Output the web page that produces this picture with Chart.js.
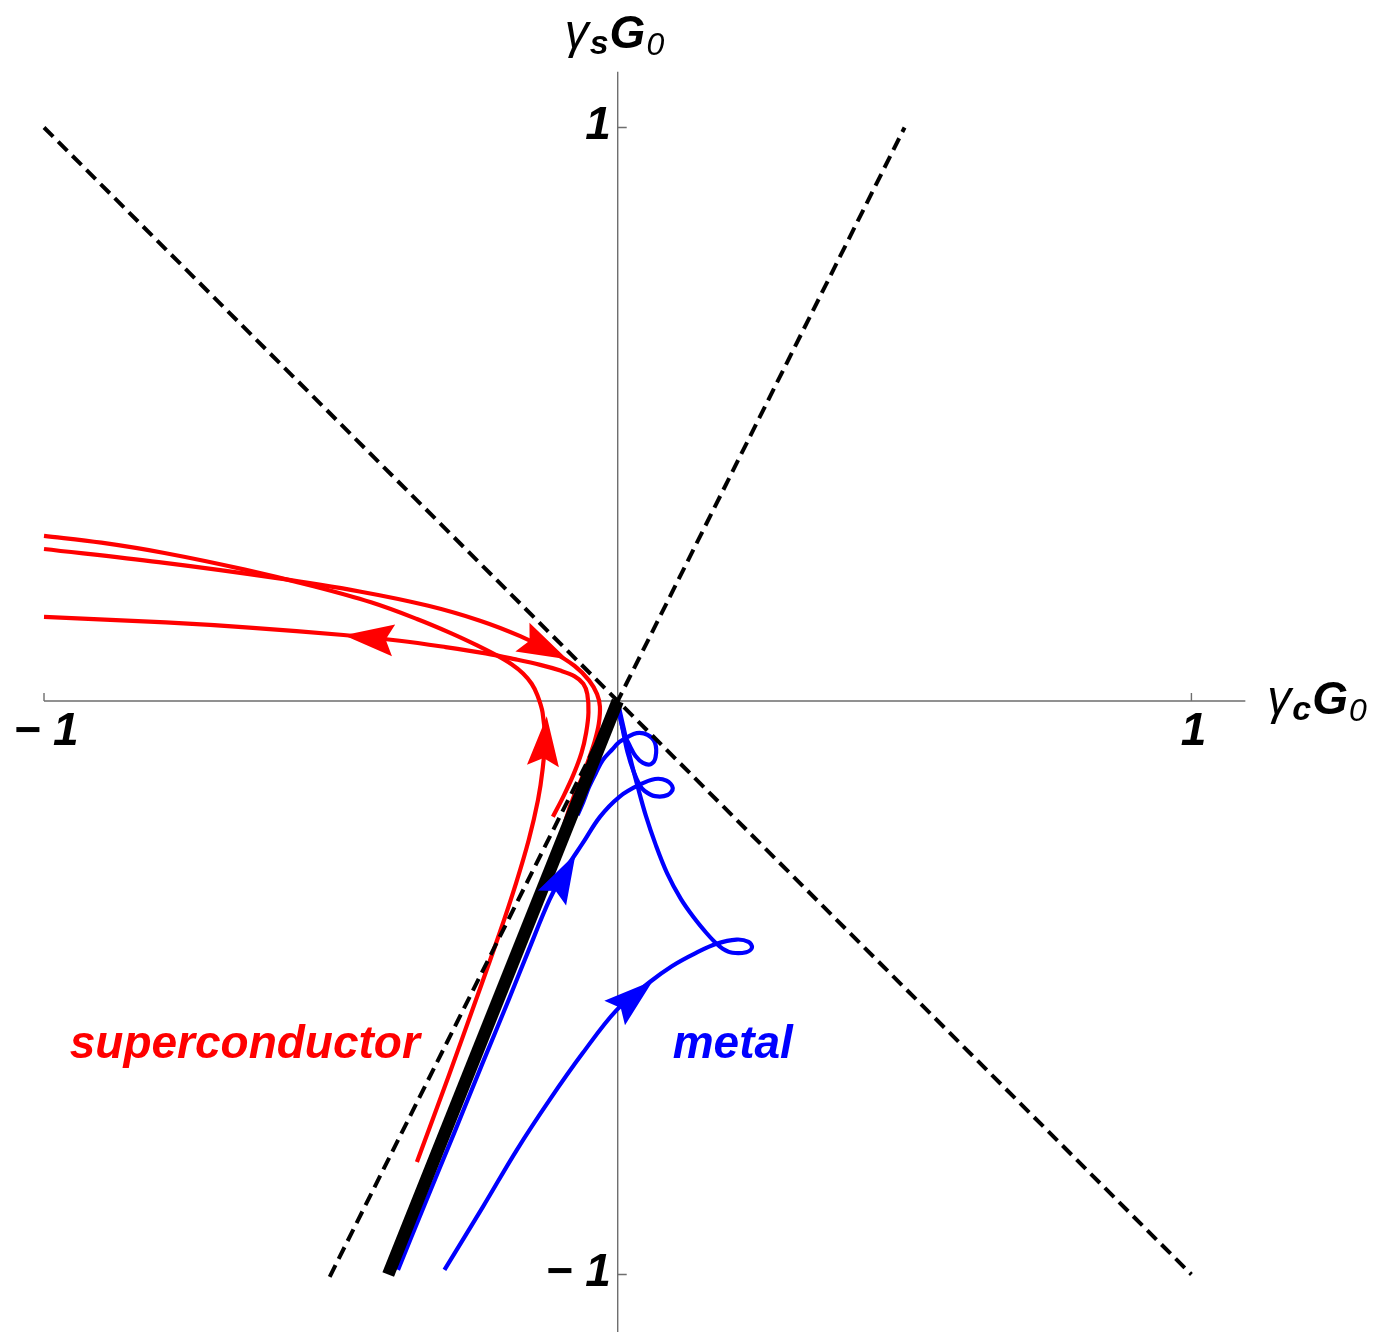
<!DOCTYPE html>
<html>
<head>
<meta charset="utf-8">
<script src="https://cdn.jsdelivr.net/npm/chart.js@4.4.1/dist/chart.umd.min.js"></script>
<style>
  html, body { margin: 0; padding: 0; background: #fff; }
  #wrap { width: 1380px; height: 1332px; }
</style>
</head>
<body>
<div id="wrap"><canvas id="flow" width="1380" height="1332"></canvas></div>
<script>
// --- view window (data units) ---
const xMin = -1.0767, xMax = 1.3287;
const yMin = -1.1003, yMax = 1.2223;

// --- axes ---
const xAxisEnd = 1.094;
const yAxisTop = 1.097;
const xTicks = [-1, 1];
const xTickLabels = ['\u2212 1', '1'];
const yTicks = [-1, 1];
const yTickLabels = ['\u2212 1', '1'];

// --- separatrices ---
const diagX = [-1, 1];
const diagY = [1, -1];
const steepX = [-0.502, 0.5];
const steepY = [-1.004, 1.0];
const fixedX = [-0.4, 0];
const fixedY = [-1, 0];

// --- red (superconductor) flows, in flow order ---
const redAX = [-0.350, -0.294, -0.247, -0.206, -0.177, -0.155, -0.139, -0.131, -0.127, -0.131, -0.140, -0.150, -0.165, -0.185, -0.210, -0.245, -0.290, -0.350, -0.430, -0.530, -0.650, -0.790, -0.900, -1.0];
const redAY = [-0.804, -0.652, -0.521, -0.405, -0.317, -0.242, -0.173, -0.120, -0.068, -0.020, 0.010, 0.030, 0.048, 0.064, 0.079, 0.097, 0.118, 0.143, 0.172, 0.200, 0.229, 0.258, 0.276, 0.288];

const redBX = [-1.0, -0.800, -0.600, -0.450, -0.330, -0.240, -0.170, -0.113, -0.075, -0.050, -0.036, -0.031, -0.033, -0.040, -0.050, -0.062, -0.076, -0.090, -0.105];
const redBY = [0.265, 0.242, 0.215, 0.191, 0.166, 0.140, 0.113, 0.085, 0.061, 0.036, 0.012, -0.010, -0.040, -0.070, -0.100, -0.133, -0.165, -0.205, -0.260];

const redCX = [-0.113, -0.094, -0.077, -0.063, -0.055, -0.051, -0.053, -0.060, -0.075, -0.100, -0.135, -0.180, -0.230, -0.300, -0.380, -0.478, -0.642, -0.788, -1.0];
const redCY = [-0.202, -0.165, -0.128, -0.090, -0.055, -0.020, 0.012, 0.030, 0.043, 0.053, 0.063, 0.073, 0.083, 0.094, 0.105, 0.115, 0.128, 0.137, 0.1465];

// --- blue (metal) flows, in flow order ---
const blue1X = [-0.302, -0.235, -0.176, -0.119, -0.061, -0.002, 0.056, 0.095, 0.135, 0.173, 0.207, 0.228, 0.234, 0.224, 0.200, 0.183, 0.170, 0.155, 0.133, 0.110, 0.086, 0.066, 0.049, 0.035, 0.022, 0.011, 0.003, 0];
const blue1Y = [-0.992, -0.882, -0.783, -0.696, -0.614, -0.539, -0.490, -0.462, -0.440, -0.423, -0.416, -0.420, -0.430, -0.438, -0.439, -0.432, -0.421, -0.405, -0.378, -0.345, -0.300, -0.250, -0.200, -0.150, -0.100, -0.050, -0.015, -0.002];

const blue2X = [-0.383, -0.337, -0.285, -0.237, -0.190, -0.155, -0.119, -0.089, -0.061, -0.031, 0.003, 0.038, 0.065, 0.085, 0.096, 0.087, 0.065, 0.047, 0.038, 0.028, 0.017, 0.009, 0.003, 0];
const blue2Y = [-0.992, -0.879, -0.753, -0.635, -0.521, -0.434, -0.347, -0.291, -0.248, -0.202, -0.167, -0.146, -0.136, -0.139, -0.152, -0.164, -0.166, -0.157, -0.146, -0.124, -0.089, -0.051, -0.019, -0.002];

const blue3X = [-0.070, -0.060, -0.050, -0.038, -0.026, -0.010, 0.003, 0.017, 0.033, 0.052, 0.065, 0.066, 0.058, 0.044, 0.031, 0.021, 0.012, 0.005, 0.002, 0];
const blue3Y = [-0.199, -0.176, -0.150, -0.1255, -0.103, -0.085, -0.0715, -0.063, -0.056, -0.059, -0.073, -0.098, -0.110, -0.108, -0.096, -0.078, -0.059, -0.033, -0.016, -0.002];

// --- arrowheads: which curve, and where along it ---
const arrowCurve = ['redA', 'redB', 'redC', 'blue1', 'blue2'];
const arrowX = [-0.127, -0.127, -0.434, 0.028, -0.094];
const arrowY = [-0.070, 0.092, 0.110, -0.516, -0.305];

const RED = '#ff0000';
const BLUE = '#0000ff';
const FONT = '"Liberation Sans", Arial, Helvetica, sans-serif';

function zip(xs, ys) {
  return xs.map((v, i) => ({ x: v, y: ys[i] }));
}

function curve(label, xs, ys, color, width, extra) {
  return Object.assign({
    label: label,
    data: zip(xs, ys),
    showLine: true,
    borderColor: color,
    backgroundColor: color,
    borderWidth: width,
    pointRadius: 0,
    pointHoverRadius: 0,
    fill: false,
    tension: 0.35,
    borderCapStyle: 'butt',
    borderJoinStyle: 'round'
  }, extra || {});
}

// Draw axis lines, ticks, tick labels and axis titles under the curves
const axesPlugin = {
  id: 'axes',
  beforeDatasetsDraw(chart) {
    const { ctx, scales: { x, y } } = chart;
    const x0 = x.getPixelForValue(0);
    const y0 = y.getPixelForValue(0);
    ctx.save();
    ctx.strokeStyle = '#6e6e6e';
    ctx.lineWidth = 1.4;
    ctx.beginPath();
    ctx.moveTo(x.getPixelForValue(xTicks[0]), y0);
    ctx.lineTo(x.getPixelForValue(xAxisEnd), y0);
    ctx.moveTo(x0, y.getPixelForValue(yAxisTop));
    ctx.lineTo(x0, chart.height);
    xTicks.forEach(v => {
      const px = x.getPixelForValue(v);
      ctx.moveTo(px, y0);
      ctx.lineTo(px, y0 - 8);
    });
    yTicks.forEach(v => {
      const py = y.getPixelForValue(v);
      ctx.moveTo(x0, py);
      ctx.lineTo(x0 + 9, py);
    });
    ctx.stroke();

    ctx.fillStyle = '#000';
    ctx.font = 'italic bold 46px ' + FONT;
    ctx.textBaseline = 'alphabetic';
    ctx.textAlign = 'center';
    xTicks.forEach((v, i) => ctx.fillText(xTickLabels[i], x.getPixelForValue(v) + 2, y0 + 44));
    ctx.textAlign = 'right';
    yTicks.forEach((v, i) => ctx.fillText(yTickLabels[i], x0 - 7, y.getPixelForValue(v) + 12));

    // axis titles: gamma_s G_0 (top) and gamma_c G_0 (right)
    drawTitle(ctx, 's', x0 - 53, y.getPixelForValue(yAxisTop) - 24);
    drawTitle(ctx, 'c', x.getPixelForValue(xAxisEnd) + 22, y0 + 13);
    ctx.restore();
  }
};

function drawTitle(ctx, sub, left, base) {
  const parts = [
    { t: '\u03b3', size: 48, w: '', dy: 0 },
    { t: sub, size: 34, w: 'bold ', dy: 6 },
    { t: 'G', size: 46, w: 'bold ', dy: 0 },
    { t: '0', size: 32, w: '', dy: 7 }
  ];
  ctx.textAlign = 'left';
  let cx = left;
  parts.forEach(p => {
    ctx.font = 'italic ' + p.w + p.size + 'px ' + FONT;
    ctx.fillText(p.t, cx, base + p.dy);
    cx += ctx.measureText(p.t).width + 1;
  });
}

// Arrowheads along the flows and the two region labels
const arrowPlugin = {
  id: 'arrows',
  afterDatasetsDraw(chart) {
    const { ctx, scales: { x, y } } = chart;
    ctx.save();
    arrowCurve.forEach((name, k) => {
      const ds = chart.data.datasets.find(d => d.label === name);
      const pts = ds.data.map(p => [x.getPixelForValue(p.x), y.getPixelForValue(p.y)]);
      const cx = x.getPixelForValue(arrowX[k]);
      const cy = y.getPixelForValue(arrowY[k]);
      let best = 0, bestD = Infinity;
      for (let i = 0; i < pts.length - 1; i++) {
        const ax = pts[i][0], ay = pts[i][1];
        const bx = pts[i + 1][0], by = pts[i + 1][1];
        const vx = bx - ax, vy = by - ay;
        const len2 = vx * vx + vy * vy || 1;
        let t = ((cx - ax) * vx + (cy - ay) * vy) / len2;
        t = Math.max(0, Math.min(1, t));
        const dx = ax + t * vx - cx, dy = ay + t * vy - cy;
        const d = dx * dx + dy * dy;
        if (d < bestD) { bestD = d; best = i; }
      }
      let ux = pts[best + 1][0] - pts[best][0];
      let uy = pts[best + 1][1] - pts[best][1];
      const n = Math.hypot(ux, uy) || 1;
      ux /= n; uy /= n;
      const L = 50, W = 32, notch = 8;
      const tipX = cx + ux * L / 2, tipY = cy + uy * L / 2;
      const backX = cx - ux * L / 2, backY = cy - uy * L / 2;
      ctx.fillStyle = ds.borderColor;
      ctx.beginPath();
      ctx.moveTo(tipX, tipY);
      ctx.lineTo(backX - uy * W / 2, backY + ux * W / 2);
      ctx.lineTo(backX + ux * notch, backY + uy * notch);
      ctx.lineTo(backX + uy * W / 2, backY - ux * W / 2);
      ctx.closePath();
      ctx.fill();
    });

    ctx.font = 'italic bold 46px ' + FONT;
    ctx.textAlign = 'center';
    ctx.textBaseline = 'alphabetic';
    ctx.fillStyle = RED;
    ctx.fillText('superconductor', x.getPixelForValue(-0.650), y.getPixelForValue(-0.6225));
    ctx.fillStyle = BLUE;
    ctx.fillText('metal', x.getPixelForValue(0.2005), y.getPixelForValue(-0.6225));
    ctx.restore();
  }
};

// first dataset is painted last (on top)
const datasets = [
  curve('fixed', fixedX, fixedY, '#000', 12.5, { tension: 0 }),
  curve('diag', diagX, diagY, '#000', 4, { tension: 0, borderDash: [13, 7] }),
  curve('steep', steepX, steepY, '#000', 4, { tension: 0, borderDash: [13, 7] }),
  curve('blue1', blue1X, blue1Y, BLUE, 4.2),
  curve('blue2', blue2X, blue2Y, BLUE, 4.2),
  curve('blue3', blue3X, blue3Y, BLUE, 4.2),
  curve('redA', redAX, redAY, RED, 4.2),
  curve('redB', redBX, redBY, RED, 4.2),
  curve('redC', redCX, redCY, RED, 4.2)
];

new Chart(document.getElementById('flow').getContext('2d'), {
  type: 'scatter',
  data: { datasets: datasets },
  options: {
    responsive: false,
    animation: false,
    devicePixelRatio: 1,
    layout: { padding: 0 },
    plugins: {
      legend: { display: false },
      tooltip: { enabled: false }
    },
    events: [],
    scales: {
      x: { type: 'linear', min: xMin, max: xMax, display: false },
      y: { type: 'linear', min: yMin, max: yMax, display: false }
    }
  },
  plugins: [axesPlugin, arrowPlugin]
});
</script>
</body>
</html>
